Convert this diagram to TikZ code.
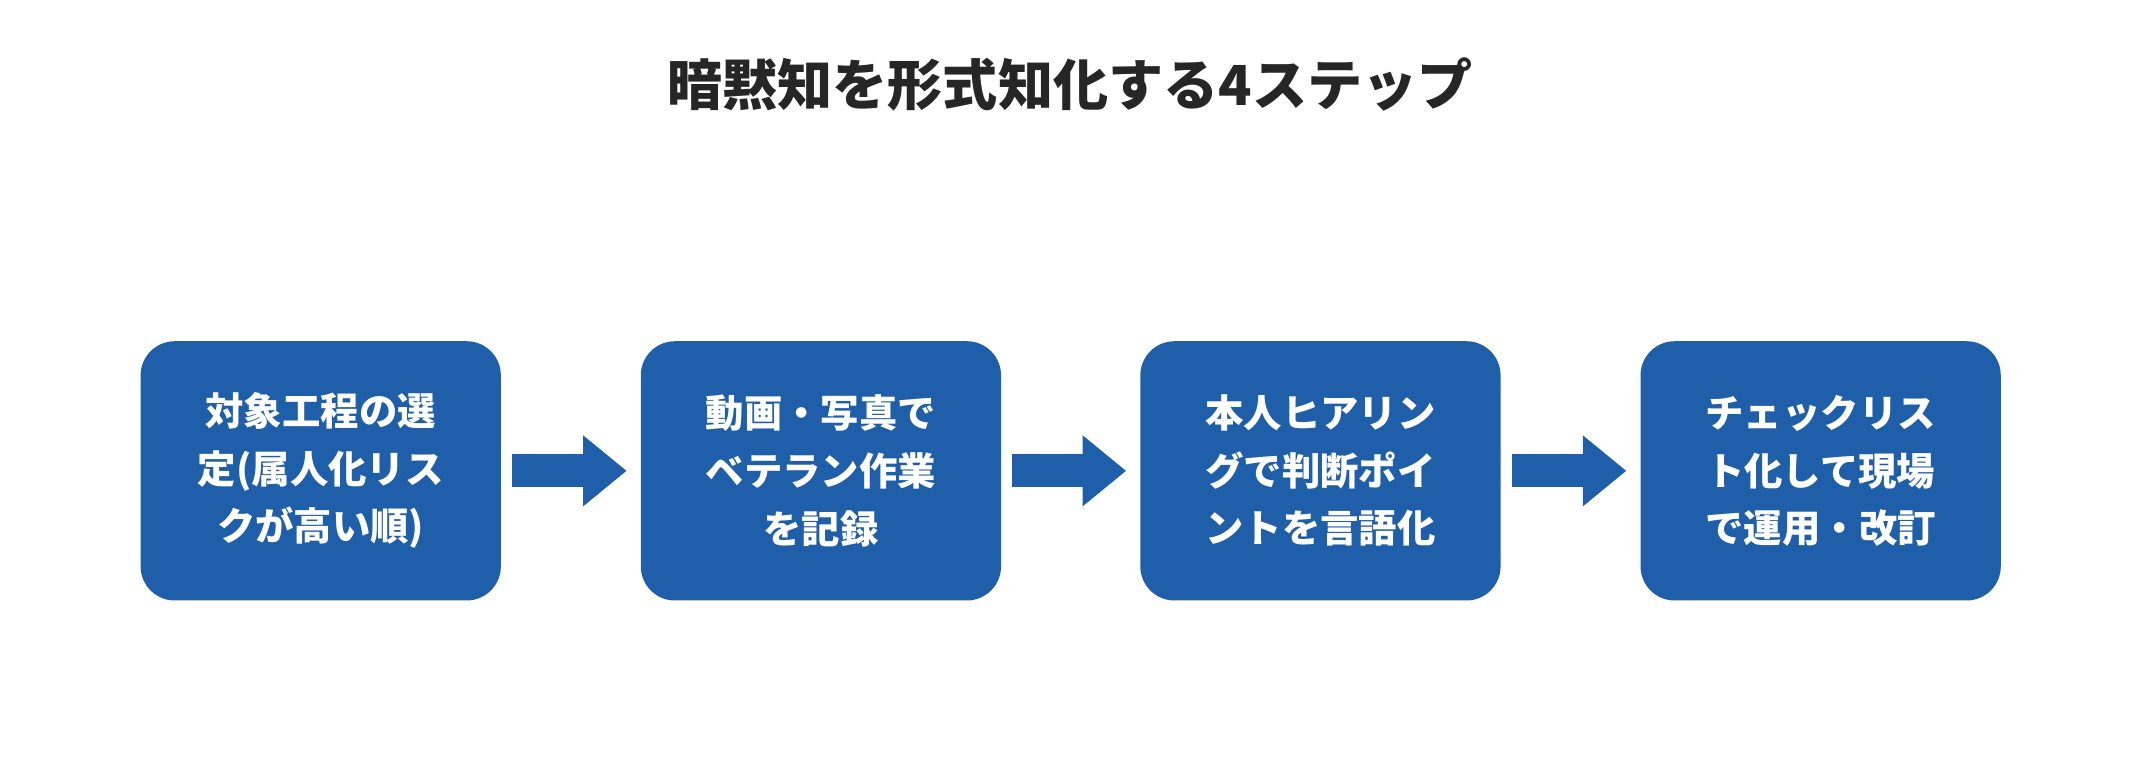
\documentclass[tikz,border=0pt]{standalone}
\usepackage{fontspec}
\setmainfont{Noto Sans CJK JP}
\usetikzlibrary{positioning,arrows.meta}
\definecolor{stepblue}{HTML}{1F5EA8}
\definecolor{titlegray}{HTML}{262626}
\tikzset{
  stepbox/.style={draw=none,fill=stepblue,rounded corners=0.5cm,minimum width=5.28cm,minimum height=3.8cm,text=white,align=center,font=\bfseries\fontsize{16}{24}\selectfont},
  flow/.style={draw=stepblue,line width=0.48cm,-{Triangle[length=0.64cm,width=1cm]},shorten <=0.16cm,shorten >=0.2cm}
}
\begin{document}
\begin{tikzpicture}[x=0.02cm,y=0.02cm]
\useasboundingbox (0,0) rectangle (1568,572);
\node [text=titlegray,font=\bfseries\fontsize{23}{28}\selectfont] (title) at (784,510) {暗黙知を形式知化する4ステップ};

\node [stepbox] (S1) at (235,227) {対象工程の選\\定(属人化リス\\クが高い順)};
\node [stepbox] (S2) at (601.5,227) {動画・写真で\\ベテラン作業\\を記録};
\node [stepbox] (S3) at (967.5,227) {本人ヒアリン\\グで判断ポイ\\ントを言語化};
\node [stepbox] (S4) at (1334,227) {チェックリス\\ト化して現場\\で運用・改訂};

\draw [flow] (S1) -- (S2);
\draw [flow] (S2) -- (S3);
\draw [flow] (S3) -- (S4);
\end{tikzpicture}
\end{document}
